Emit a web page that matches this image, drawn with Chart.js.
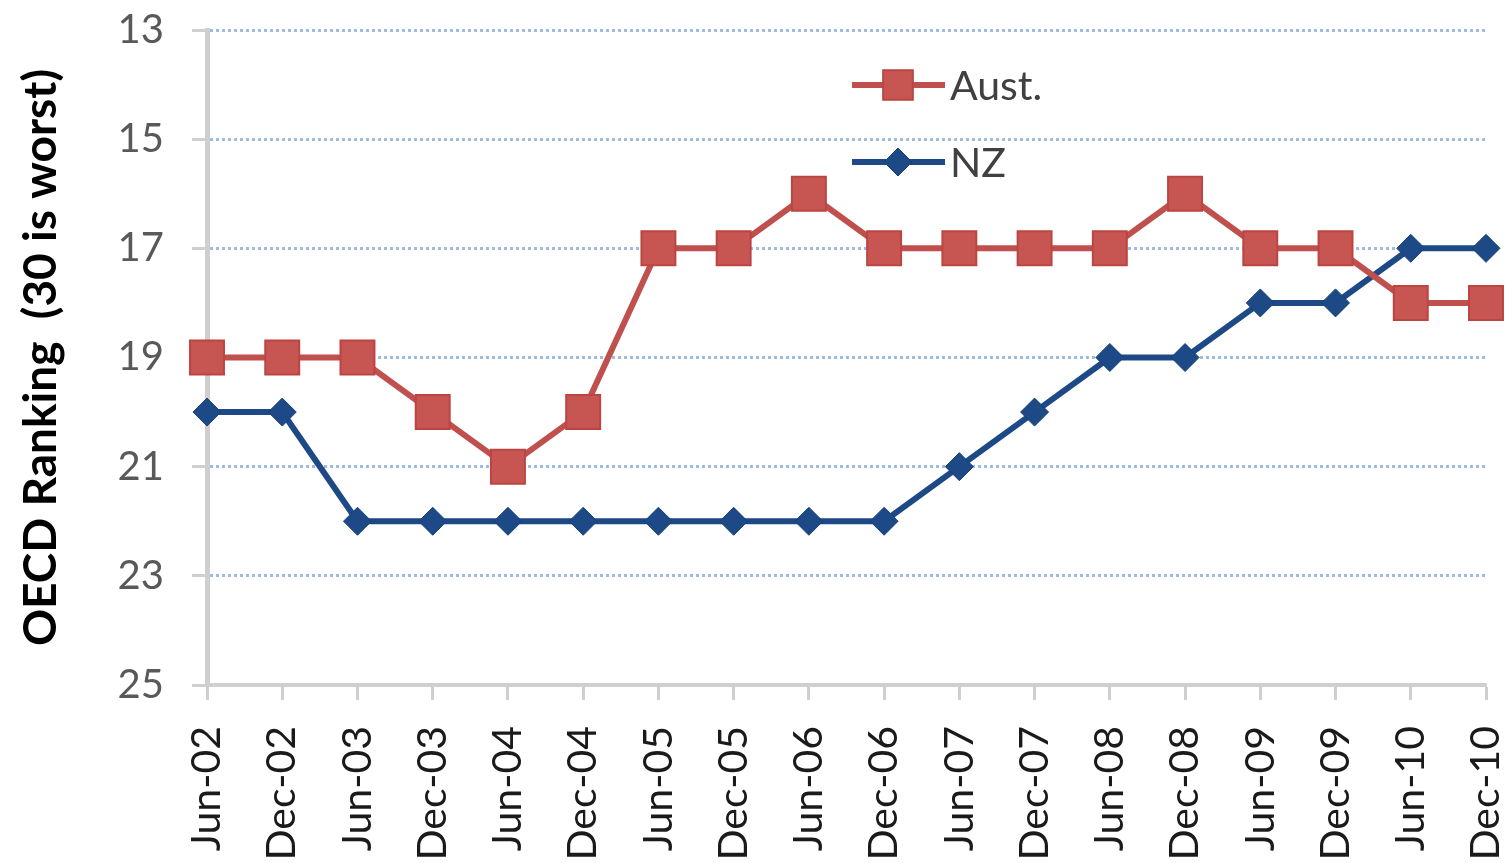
<!DOCTYPE html>
<html>
<head>
<meta charset="utf-8">
<script src="https://cdn.jsdelivr.net/npm/chart.js@4"></script>
<style>
  html, body { margin: 0; padding: 0; background: #fff; overflow: hidden; }
  #wrap { width: 1512px; height: 863px; }
</style>
</head>
<body>
<div id="wrap"><canvas id="rankChart" width="1512" height="863"></canvas></div>
<script>
// categories and series (OECD ranking, lower is better)
const periods = ['Jun-02', 'Dec-02', 'Jun-03', 'Dec-03', 'Jun-04', 'Dec-04', 'Jun-05', 'Dec-05', 'Jun-06',
  'Dec-06', 'Jun-07', 'Dec-07', 'Jun-08', 'Dec-08', 'Jun-09', 'Dec-09', 'Jun-10', 'Dec-10'];
const austRank = [19, 19, 19, 20, 21, 20, 17, 17, 16, 17, 17, 17, 17, 16, 17, 17, 18, 18];
const nzRank = [20, 20, 22, 22, 22, 22, 22, 22, 22, 22, 21, 20, 19, 19, 18, 18, 17, 17];
const yTicks = [13, 15, 17, 19, 21, 23, 25];

const FONT = 'Lato, "Open Sans", sans-serif';
const axisGrey = '#cfcfcf';

// drop the extra room chart.js keeps for overhanging labels
function noOverhang(scale) {
  scale.paddingTop = 0;
  scale.paddingBottom = 0;
  scale.paddingLeft = 0;
  scale.paddingRight = 0;
}

// legend drawn in the plot area, like the original
const insideLegend = {
  id: 'insideLegend',
  afterDraw(chart) {
    const ctx = chart.ctx;
    const rows = [85, 162];
    chart.data.datasets.forEach((ds, i) => {
      const y = rows[i];
      ctx.save();
      ctx.strokeStyle = ds.borderColor;
      ctx.lineWidth = ds.borderWidth;
      ctx.beginPath();
      ctx.moveTo(852, y);
      ctx.lineTo(945, y);
      ctx.stroke();
      ctx.fillStyle = ds.pointBackgroundColor;
      ctx.strokeStyle = ds.pointBorderColor;
      ctx.lineWidth = ds.pointBorderWidth;
      Chart.helpers.drawPoint(ctx, {
        pointStyle: ds.pointStyle,
        radius: i === 0 ? 21 : 14,
        rotation: 0,
        borderWidth: ds.pointBorderWidth
      }, 898, y);
      ctx.fillStyle = '#404040';
      ctx.font = '41px ' + FONT;
      ctx.textBaseline = 'middle';
      ctx.textAlign = 'left';
      ctx.fillText(ds.label, 950, y + 2);
      ctx.restore();
    });
  }
};

new Chart(document.getElementById('rankChart'), {
  type: 'line',
  data: {
    labels: periods,
    datasets: [
      {
        label: 'Aust.',
        data: austRank,
        borderColor: '#c0504d',
        borderWidth: 6,
        pointStyle: 'rect',
        pointRadius: 24,
        pointHoverRadius: 24,
        pointBackgroundColor: '#c75653',
        pointBorderColor: '#bc4541',
        pointBorderWidth: 2,
        tension: 0
      },
      {
        label: 'NZ',
        data: nzRank,
        borderColor: '#1d4a86',
        borderWidth: 6,
        pointStyle: 'rectRot',
        pointRadius: 14,
        pointHoverRadius: 14,
        pointBackgroundColor: '#1d4a86',
        pointBorderColor: '#17407a',
        pointBorderWidth: 1,
        tension: 0
      }
    ]
  },
  options: {
    responsive: false,
    devicePixelRatio: 1,
    animation: false,
    layout: { padding: { top: 30, right: 25, left: 0, bottom: 0 } },
    plugins: {
      legend: { display: false },
      tooltip: { enabled: false }
    },
    scales: {
      x: {
        afterFit(scale) { scale.height = 178; noOverhang(scale); },
        grid: {
          drawOnChartArea: false,
          drawTicks: true,
          tickLength: 15,
          tickColor: axisGrey,
          tickWidth: 3
        },
        border: { display: true, color: axisGrey, width: 4 },
        ticks: {
          autoSkip: false,
          maxRotation: 90,
          minRotation: 90,
          padding: 26,
          color: '#1a1a1a',
          font: { family: FONT, size: 41 }
        }
      },
      y: {
        reverse: true,
        min: 13,
        max: 25,
        afterFit(scale) { scale.width = 207; noOverhang(scale); },
        afterBuildTicks(scale) { scale.ticks = yTicks.map(v => ({ value: v })); },
        grid: {
          color: ctx => ctx.tick && ctx.tick.value === 25 ? 'rgba(0,0,0,0)' : '#9fbbe3',
          lineWidth: 3,
          tickLength: 15,
          tickColor: axisGrey,
          tickWidth: 3
        },
        border: { display: true, color: axisGrey, width: 5, dash: [3, 3] },
        ticks: {
          padding: 28,
          color: '#595959',
          font: { family: FONT, size: 40 }
        },
        title: {
          display: true,
          text: 'OECD Ranking  (30 is worst)',
          color: '#000',
          padding: { top: 14, bottom: 4 },
          font: { family: FONT, size: 46, weight: 'bold' }
        }
      }
    }
  },
  plugins: [insideLegend]
});
</script>
</body>
</html>
